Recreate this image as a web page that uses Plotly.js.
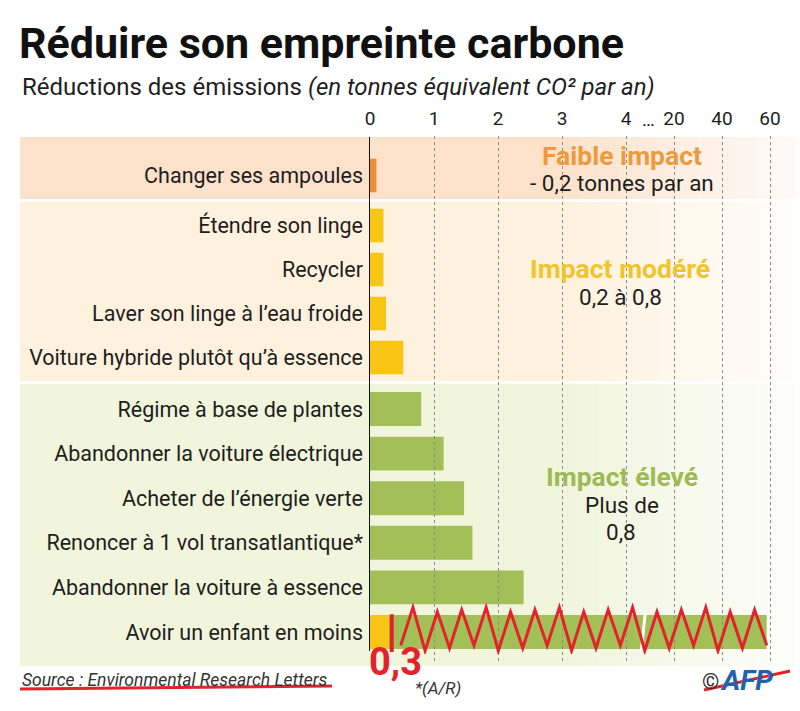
<!DOCTYPE html>
<html>
<head>
<meta charset="utf-8">
<script src="https://cdn.plot.ly/plotly-3.0.1.min.js"></script>
<style>html,body{margin:0;padding:0;background:#fff;}#chart{width:800px;height:711px;}</style>
</head>
<body>
<div id="chart"></div>
<script>
// ---------- DATA ----------
const categories_faible = ["Changer ses ampoules"];
const values_faible = [0.1];

const categories_modere = ["Étendre son linge", "Recycler", "Laver son linge à l’eau froide", "Voiture hybride plutôt qu’à essence"];
const values_modere = [0.21, 0.21, 0.25, 0.52];

const categories_eleve = ["Régime à base de plantes", "Abandonner la voiture électrique", "Acheter de l’énergie verte", "Renoncer à 1 vol transatlantique*", "Abandonner la voiture à essence", "Avoir un enfant en moins"];
const values_eleve = [0.8, 1.15, 1.47, 1.6, 2.4, 58.6];

// hand-written correction on the last bar
const corrected_category = ["Avoir un enfant en moins"];
const corrected_value = [0.3];

const tick_values = [0, 1, 2, 3, 4, 20, 40, 60];
const tick_text = ["0", "1", "2", "3", "4", "20", "40", "60"];

// ---------- broken axis transform (0–4 linear, then compressed 4–20, 20–60) ----------
function brk(v) {
  if (v <= 4) return v;
  if (v <= 20) return 4 + (v - 4) * 0.75 / 16;
  return 4.75 + (v - 20) * 0.75 / 20;
}

// ---------- layout helpers ----------
const W = 800, H = 711, L = 370, R = 20;
const PW = W - L - R;
const XR = PW / 64;             // 64 px per unit
const py = y => 1 - y / H;
const px = x => (x - L) / PW;
const FONT = "Roboto, 'Open Sans', sans-serif";
const TXT = "#1e1e1e";

const C_ORANGE = "#ec8a35", C_YELLOW = "#f8c512", C_GREEN = "#a2bf58";

const traces = [
  {type: "bar", orientation: "h", y: categories_faible, x: values_faible.map(brk), customdata: values_faible,
   xaxis: "x", yaxis: "y", marker: {color: C_ORANGE}, width: 0.76, hovertemplate: "%{y}: %{customdata}<extra></extra>"},
  {type: "bar", orientation: "h", y: categories_modere, x: values_modere.map(brk), customdata: values_modere,
   xaxis: "x", yaxis: "y2", marker: {color: C_YELLOW}, width: 0.76, hovertemplate: "%{y}: %{customdata}<extra></extra>"},
  {type: "bar", orientation: "h", y: categories_eleve, x: values_eleve.map(brk), customdata: values_eleve,
   xaxis: "x", yaxis: "y3", marker: {color: C_GREEN}, width: 0.76, hovertemplate: "%{y}: %{customdata}<extra></extra>"},
  {type: "bar", orientation: "h", y: corrected_category, x: corrected_value.map(brk), customdata: corrected_value,
   xaxis: "x", yaxis: "y3", marker: {color: C_YELLOW}, width: 0.76, hovertemplate: "%{y}: %{customdata}<extra></extra>"},
  // invisible helpers so the grid axis and the zero axis line get drawn
  {type: "scatter", mode: "markers", x: [0], y: [0.5], xaxis: "x2", yaxis: "y4",
   marker: {opacity: 0, size: 1}, hoverinfo: "skip", showlegend: false},
  {type: "scatter", mode: "markers", x: [0], y: [0.5], xaxis: "x", yaxis: "y5",
   marker: {opacity: 0, size: 1}, hoverinfo: "skip", showlegend: false}
];

// ---------- background bands with fade to the right ----------
const shapes = [];
function band(y0, y1, rgb) {
  const xs = 20, xm = 560, xe = 795;
  shapes.push({type: "rect", xref: "paper", yref: "paper", x0: px(xs), x1: px(xm), y0: py(y1), y1: py(y0),
    fillcolor: `rgb(${rgb.join(",")})`, line: {width: 0}, layer: "below"});
  const n = 12;
  for (let i = 0; i < n; i++) {
    const t = (i + 0.5) / n;
    const c = rgb.map(v => Math.round(v + (255 - v) * t * 0.85));
    shapes.push({type: "rect", xref: "paper", yref: "paper",
      x0: px(xm + (xe - xm) * i / n), x1: px(xm + (xe - xm) * (i + 1) / n) + 0.001,
      y0: py(y1), y1: py(y0), fillcolor: `rgb(${c.join(",")})`, line: {width: 0}, layer: "below"});
  }
}
band(137, 199, [253, 226, 203]);
band(202, 381, [254, 242, 222]);
band(384, 666, [241, 245, 220]);

// white break mark in the long bar
shapes.push({type: "line", xref: "x", yref: "y3", x0: 4.30, x1: 4.24, y0: 4.58, y1: 5.42,
  line: {color: "#ffffff", width: 3}});
// red correction stroke
shapes.push({type: "line", xref: "x", yref: "y3", x0: 0.34, x1: 0.34, y0: 4.6, y1: 5.45,
  line: {color: "#e3232b", width: 4}});
// red scribble over the rest of the bar
(function () {
  const n = 30, xa = 0.48, xb = 6.2;
  let d = "";
  for (let i = 0; i <= n; i++) {
    const x = xa + (xb - xa) * i / n;
    const y = (i % 2 === 0) ? 5.3 + ((i * 7) % 3) * 0.06 : 4.55 - ((i * 5) % 3) * 0.05;
    d += (i === 0 ? "M" : " L") + x.toFixed(3) + "," + y.toFixed(3);
  }
  shapes.push({type: "path", xref: "x", yref: "y3", path: d, line: {color: "#e3232b", width: 3}});
})();
// red strike-outs in the footer
shapes.push({type: "line", xref: "paper", yref: "paper", x0: px(20), x1: px(332), y0: py(689), y1: py(686),
  line: {color: "#e3232b", width: 3}});
shapes.push({type: "line", xref: "paper", yref: "paper", x0: px(704), x1: px(790), y0: py(690), y1: py(671),
  line: {color: "#e3232b", width: 3}});

// ---------- annotations ----------
const ann = [];
function txt(text, x, y, size, color, opts) {
  ann.push(Object.assign({text: text, xref: "paper", yref: "paper", x: px(x), y: py(y), showarrow: false,
    xanchor: "center", yanchor: "middle", font: {family: FONT, size: size, color: color}}, opts || {}));
}
txt("Réductions des émissions <i>(en tonnes équivalent CO² par an)</i>", 20, 87, 24, TXT, {xanchor: "left"});
txt("…", 648, 119, 19, TXT);

txt("<b>Faible impact</b>", 622, 155, 26.5, "#ee9a3c");
txt("- 0,2 tonnes par an", 622, 183, 22.5, TXT);
txt("<b>Impact modéré</b>", 620, 268, 26.5, "#f2c42a");
txt("0,2 à 0,8", 620, 297, 22.5, TXT);
txt("<b>Impact élevé</b>", 622, 476, 26.5, "#9dbb55");
txt("Plus de", 622, 505, 22.5, TXT);
txt("0,8", 621, 532, 22.5, TXT);

txt("<b>0,3</b>", 367, 662, 38, "#e3232b", {xanchor: "left"});
txt("<i>Source : Environmental Research Letters</i>", 20, 680, 17.5, "#333333", {xanchor: "left"});
txt("<i>*(A/R)</i>", 413, 688, 17, "#333333", {xanchor: "left"});
txt("©", 700, 681, 22, "#333333", {xanchor: "left"});
txt("<b><i>AFP</i></b>", 718, 680, 28, "#1f63ae", {xanchor: "left"});

const yBase = {type: "category", autorange: "reversed", ticks: "", showgrid: false, zeroline: false,
  showline: false, tickfont: {family: FONT, size: 21.5, color: TXT}, ticklabelstandoff: 6, fixedrange: true};

const layout = {
  width: W, height: H,
  margin: {l: L, r: R, t: 0, b: 0, pad: 0},
  paper_bgcolor: "#ffffff", plot_bgcolor: "rgba(0,0,0,0)",
  showlegend: false, barmode: "overlay",
  title: {text: "<b>Réduire son empreinte carbone</b>", xref: "container", yref: "container",
    x: 19 / W, xanchor: "left", y: 1 - 43 / H, yanchor: "middle",
    font: {family: FONT, size: 43, color: "#111111"}},
  xaxis: {range: [0, XR], domain: [0, 1], anchor: "y3", showticklabels: false, showgrid: false,
    zeroline: false, showline: false, ticks: "", fixedrange: true},
  xaxis2: {range: [0, XR], domain: [0, 1], anchor: "y4", side: "top",
    tickvals: tick_values.map(brk), ticktext: tick_text, ticks: "",
    showgrid: true, griddash: "dot", gridcolor: "#8a8a8a", gridwidth: 1,
    zeroline: false, showline: false, ticklabelstandoff: 6,
    tickfont: {family: FONT, size: 19, color: TXT}, fixedrange: true},
  yaxis: Object.assign({}, yBase, {domain: [py(197.5), py(153.5)], anchor: "x", categoryarray: categories_faible}),
  yaxis2: Object.assign({}, yBase, {domain: [py(379.5), py(203.5)], anchor: "x", categoryarray: categories_modere}),
  yaxis3: Object.assign({}, yBase, {domain: [py(654.3), py(386.7)], anchor: "x", categoryarray: categories_eleve}),
  yaxis4: {domain: [py(663), py(136)], anchor: "x2", range: [0, 1], showticklabels: false, showgrid: false,
    zeroline: false, showline: false, ticks: "", fixedrange: true},
  yaxis5: {domain: [py(651), py(137)], anchor: "x", range: [0, 1], showline: true, linecolor: "#111111",
    linewidth: 1.3, showticklabels: false, showgrid: false, zeroline: false, ticks: "", fixedrange: true},
  shapes: shapes,
  annotations: ann
};

Plotly.newPlot("chart", traces, layout, {displayModeBar: false, staticPlot: true});
</script>
</body>
</html>
